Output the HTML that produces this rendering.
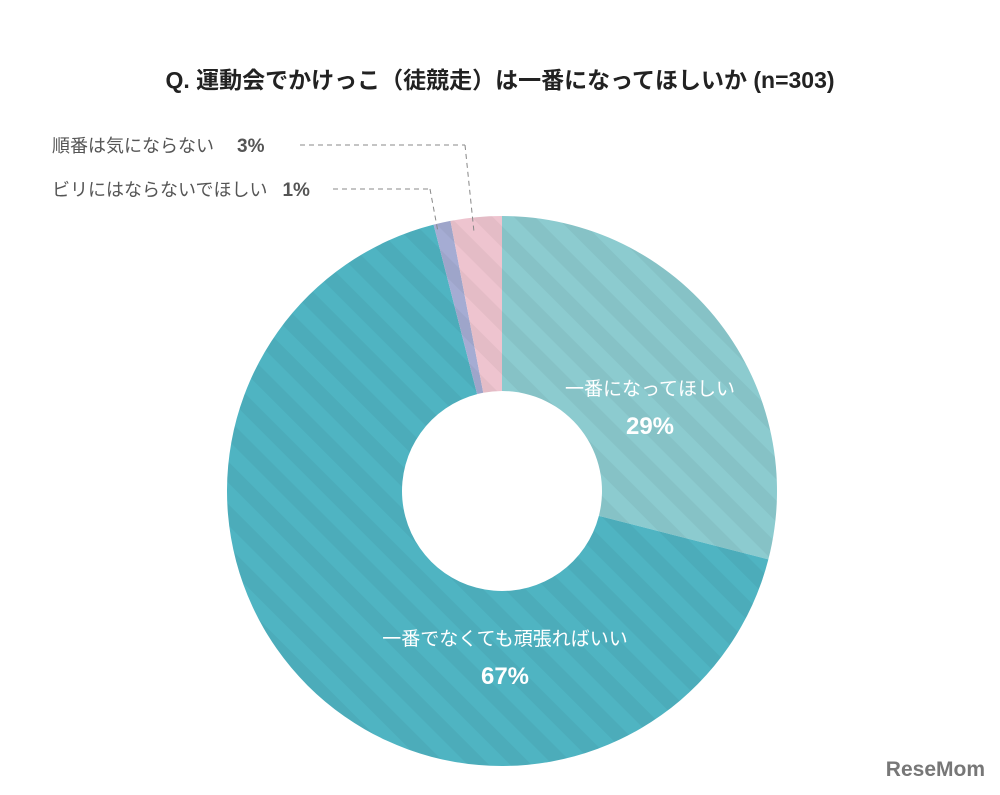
<!DOCTYPE html>
<html><head><meta charset="utf-8"><style>
body{margin:0;background:#fff;}
svg text{font-family:"Liberation Sans","Noto Sans CJK JP",sans-serif;}
</style></head><body>
<svg width="1000" height="790" viewBox="0 0 1000 790">
<defs>
<pattern id="stripes" width="30" height="30" patternUnits="userSpaceOnUse" patternTransform="rotate(-45)">
<rect x="0" y="0" width="15" height="30" fill="rgba(0,0,0,0.045)"/>
</pattern>
</defs>
<text x="500" y="88" text-anchor="middle" font-size="23" font-weight="bold" fill="#222">Q. 運動会でかけっこ（徒競走）は一番になってほしいか (n=303)</text>
<g id="slices"></g>
<g id="labels"></g>
<g>
<line x1="300" y1="145" x2="465" y2="145" stroke="#888" stroke-dasharray="5,4"/>
<line x1="465" y1="145" x2="474" y2="232" stroke="#888" stroke-dasharray="5,4"/>
</g>
<g>
<line x1="333" y1="189" x2="430" y2="189" stroke="#888" stroke-dasharray="5,4"/>
<line x1="430" y1="189" x2="438" y2="232" stroke="#888" stroke-dasharray="5,4"/>
</g>
<text x="52" y="152" font-size="18" fill="#555">順番は気にならない <tspan font-weight="bold" font-size="19" dx="18">3%</tspan></text>
<text x="52" y="196" font-size="18" fill="#555">ビリにはならないでほしい <tspan font-weight="bold" font-size="19" dx="10">1%</tspan></text>
<text x="985" y="776" text-anchor="end" font-size="21" font-weight="bold" fill="#777">ReseMom</text>
</svg>
<script>
const categories=["一番になってほしい","一番でなくても頑張ればいい","ビリにはならないでほしい","順番は気にならない"];
const values=[29,67,1,3];
const colors=["#8ccbcf","#4fb4c2","#a5acd3","#eec4cf"];
const labelPos=[[650,395],[505,645],null,null];
const cx=502,cy=491,R=275,r=100;
const total=values.reduce((a,b)=>a+b,0);
const ns="http://www.w3.org/2000/svg";
const g=document.getElementById('slices');
const lg=document.getElementById('labels');
function pt(a,rad){return [cx+rad*Math.sin(a),cy-rad*Math.cos(a)];}
let acc=0;
values.forEach((v,i)=>{
 const a0=acc/total*2*Math.PI;acc+=v;const a1=acc/total*2*Math.PI;
 const large=(a1-a0)>Math.PI?1:0;
 const p0=pt(a0,R),p1=pt(a1,R),q1=pt(a1,r),q0=pt(a0,r);
 const d=`M${p0} A${R},${R} 0 ${large} 1 ${p1} L${q1} A${r},${r} 0 ${large} 0 ${q0} Z`;
 const p=document.createElementNS(ns,'path');p.setAttribute('d',d);p.setAttribute('fill',colors[i]);
 
 
 g.appendChild(p);
 const s=document.createElementNS(ns,'path');s.setAttribute('d',d);s.setAttribute('fill','url(#stripes)');
 g.appendChild(s);
 if(labelPos[i]){
  const c=labelPos[i];
  const t=document.createElementNS(ns,'text');t.setAttribute('x',c[0]);t.setAttribute('y',c[1]);
  t.setAttribute('text-anchor','middle');t.setAttribute('font-size','19');t.setAttribute('fill','#fff');
  t.textContent=categories[i];
  
  
  lg.appendChild(t);
  const t2=document.createElementNS(ns,'text');t2.setAttribute('x',c[0]);t2.setAttribute('y',c[1]+39);
  t2.setAttribute('text-anchor','middle');t2.setAttribute('font-size','24');t2.setAttribute('font-weight','bold');t2.setAttribute('fill','#fff');
  t2.textContent=v+'%';
  
  
  lg.appendChild(t2);
 }
});
</script>
</body></html>
